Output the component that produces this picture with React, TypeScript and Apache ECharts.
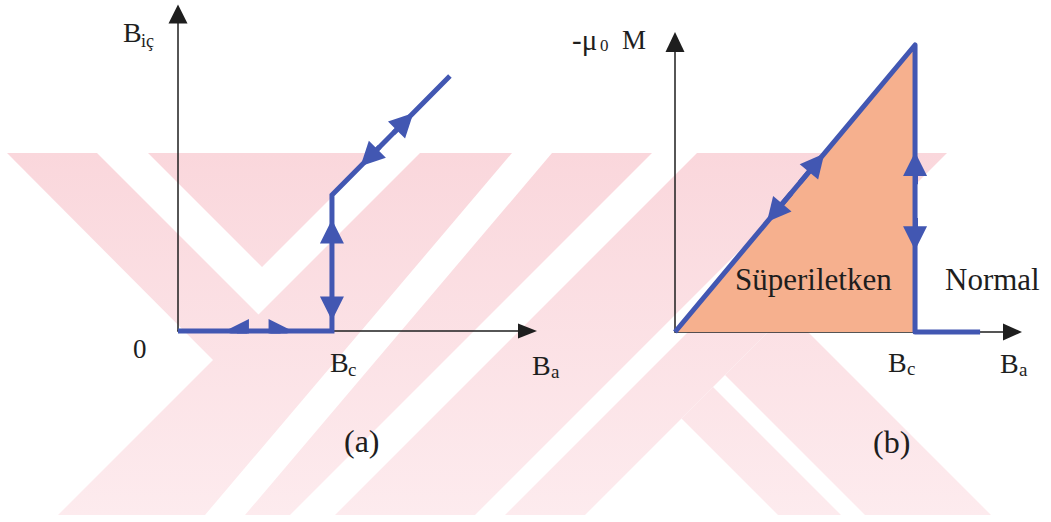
import React, { useEffect, useRef } from "react";
import * as echarts from "echarts";

// ---------- Panel (a): internal field B_iç versus applied field B_a ----------
const aPathX = [0, 1, 1, 1.766];
const aPathY = [0, 0, 1, 1.875];
const aXMax = 2.27;
const aYMax = 2.331;
// arrow heads along the path: segment start -> arrow centre (data units)
const aArrowFrom = [[0.45, 0], [0.6, 0], [1, 0.66], [1, 0.24], [1.4, 1.456], [1.31, 1.354]];
const aArrowTo = [[0.383, 0], [0.666, 0], [1, 0.732], [1, 0.165], [1.474, 1.541], [1.24, 1.274]];

// ---------- Panel (b): -mu0 M versus applied field B_a ----------
const bPathX = [0, 1, 1, 1.271];
const bPathY = [0, 1, 0, 0];
const bXMax = 1.406;
const bYMax = 1.0105;
const bArrowFrom = [[0.52, 0.52], [0.485, 0.485], [1, 0.515], [1, 0.397]];
const bArrowTo = [[0.59, 0.59], [0.415, 0.415], [1, 0.585], [1, 0.327]];

// ---------- texts ----------
const panelTags = ["(a)", "(b)"];
const regionNames = ["Süperiletken", "Normal"];

const BLUE = "#4257B2";
const INK = "#1e1e1e";
const SERIF = "Liberation Serif";

const zip = (xs: number[], ys: number[]) => xs.map((x, i) => [x, ys[i]]);

function watermark() {
  const pinkPolys = [
    [[0, 153], [947, 153], [585, 515], [0, 515]],
    [[681.5, 418.5], [713, 387], [841, 515], [778, 515]],
    [[725, 375], [788, 312], [991, 515], [865, 515]],
  ];
  const whitePolys = [
    [[0, 153], [7, 153], [213, 360], [58, 515], [0, 515]],
    [[97, 153], [148, 153], [262, 267], [376, 153], [420, 153], [258.5, 314.5]],
    [[512, 153], [552, 153], [245, 515], [205, 515]],
    [[652, 153], [697, 153], [335, 515], [290, 515]],
    [[837, 153], [867, 153], [505, 515], [475, 515]],
  ];
  const els: any[] = [];
  pinkPolys.forEach((p) =>
    els.push({
      type: "polygon",
      z: -20,
      silent: true,
      shape: { points: p },
      style: {
        fill: {
          type: "linear",
          global: true,
          x: 0,
          y: 153,
          x2: 0,
          y2: 515,
          colorStops: [
            { offset: 0, color: "#FAD7DC" },
            { offset: 1, color: "#FDEBEE" },
          ],
        },
      },
    })
  );
  whitePolys.forEach((p) =>
    els.push({ type: "polygon", z: -19, silent: true, shape: { points: p }, style: { fill: "#ffffff" } })
  );
  return els;
}

// label as a title component: left edge x, vertical centre of the glyphs y
function lbl(text: string, x: number, yc: number, size: number) {
  return {
    text,
    left: x,
    top: yc - size / 2,
    padding: 0,
    textStyle: {
      fontFamily: SERIF,
      fontSize: size,
      fontWeight: "normal",
      color: INK,
      lineHeight: size,
    },
  };
}

function arrowData(from: number[][], to: number[][]) {
  return from.map((f, i) => ({ coords: [f, to[i]] }));
}

export default function App() {
  const ref = useRef<HTMLDivElement>(null);

  useEffect(() => {
    if (!ref.current) return;
    const chart = echarts.init(ref.current, undefined, { renderer: "svg" });

    const axisCommon = {
      type: "value",
      axisTick: { show: false },
      axisLabel: { show: false },
      splitLine: { show: false },
    };

    const option: any = {
      animation: false,
      backgroundColor: "#ffffff",
      textStyle: { fontFamily: SERIF },
      title: [
        // panel (a)
        lbl("B", 123, 32.5, 28),
        lbl("iç", 141, 41, 18),
        lbl("0", 133, 349, 27),
        lbl("B", 330, 362.5, 28),
        lbl("c", 348, 369, 19),
        lbl("B", 532, 365, 28),
        lbl("a", 551, 371, 19),
        lbl(panelTags[0], 344, 441, 32),
        // panel (b)
        lbl("-μ", 572, 40, 29),
        lbl("0", 600, 45, 17),
        lbl("M", 622, 40, 27),
        lbl(regionNames[0], 735, 279, 31),
        lbl(regionNames[1], 945, 279, 31),
        lbl("B", 888, 362, 28),
        lbl("c", 907, 368, 19),
        lbl("B", 1000, 363, 28),
        lbl("a", 1019, 369, 19),
        lbl(panelTags[1], 873, 442, 32),
      ],
      grid: [
        { left: 178, right: 523.5, top: 14, bottom: 191 },
        { left: 675, right: 38.5, top: 42, bottom: 190 },
      ],
      xAxis: [
        {
          ...axisCommon,
          gridIndex: 0,
          min: 0,
          max: aXMax,
          axisLine: { show: true, symbol: ["none", "triangle"], symbolSize: [15, 19], lineStyle: { color: INK, width: 1.5 } },
        },
        {
          ...axisCommon,
          gridIndex: 1,
          min: 0,
          max: bXMax,
          axisLine: { show: true, symbol: ["none", "triangle"], symbolSize: [17, 19], lineStyle: { color: INK, width: 1.5 } },
        },
      ],
      yAxis: [
        {
          ...axisCommon,
          gridIndex: 0,
          min: 0,
          max: aYMax,
          axisLine: { show: true, symbol: ["none", "triangle"], symbolSize: [19, 19], lineStyle: { color: INK, width: 1.5 } },
        },
        {
          ...axisCommon,
          gridIndex: 1,
          min: 0,
          max: bYMax,
          axisLine: { show: true, symbol: ["none", "triangle"], symbolSize: [19, 20], lineStyle: { color: INK, width: 1.5 } },
        },
      ],
      series: [
        {
          type: "line",
          xAxisIndex: 0,
          yAxisIndex: 0,
          data: zip(aPathX, aPathY),
          symbol: "none",
          clip: false,
          lineStyle: { color: BLUE, width: 5, join: "miter", cap: "butt" },
          z: 3,
        },
        {
          type: "lines",
          coordinateSystem: "cartesian2d",
          xAxisIndex: 0,
          yAxisIndex: 0,
          data: arrowData(aArrowFrom, aArrowTo),
          symbol: ["none", "triangle"],
          symbolSize: 24,
          lineStyle: { color: BLUE, width: 5, opacity: 1 },
          z: 4,
        },
        {
          type: "line",
          xAxisIndex: 1,
          yAxisIndex: 1,
          data: zip(bPathX, bPathY),
          symbol: "none",
          clip: false,
          lineStyle: { color: BLUE, width: 5, join: "round", cap: "butt" },
          areaStyle: { color: "#F6B08E", opacity: 1 },
          z: 3,
        },
        {
          type: "lines",
          coordinateSystem: "cartesian2d",
          xAxisIndex: 1,
          yAxisIndex: 1,
          data: arrowData(bArrowFrom, bArrowTo),
          symbol: ["none", "triangle"],
          symbolSize: 24,
          lineStyle: { color: BLUE, width: 5, opacity: 1 },
          z: 4,
        },
      ],
      graphic: watermark(),
    };

    chart.setOption(option);
    return () => chart.dispose();
  }, []);

  return (
    <div
      ref={ref}
      style={{ position: "fixed", left: 0, top: 0, width: 1051, height: 522, background: "#fff" }}
    />
  );
}
